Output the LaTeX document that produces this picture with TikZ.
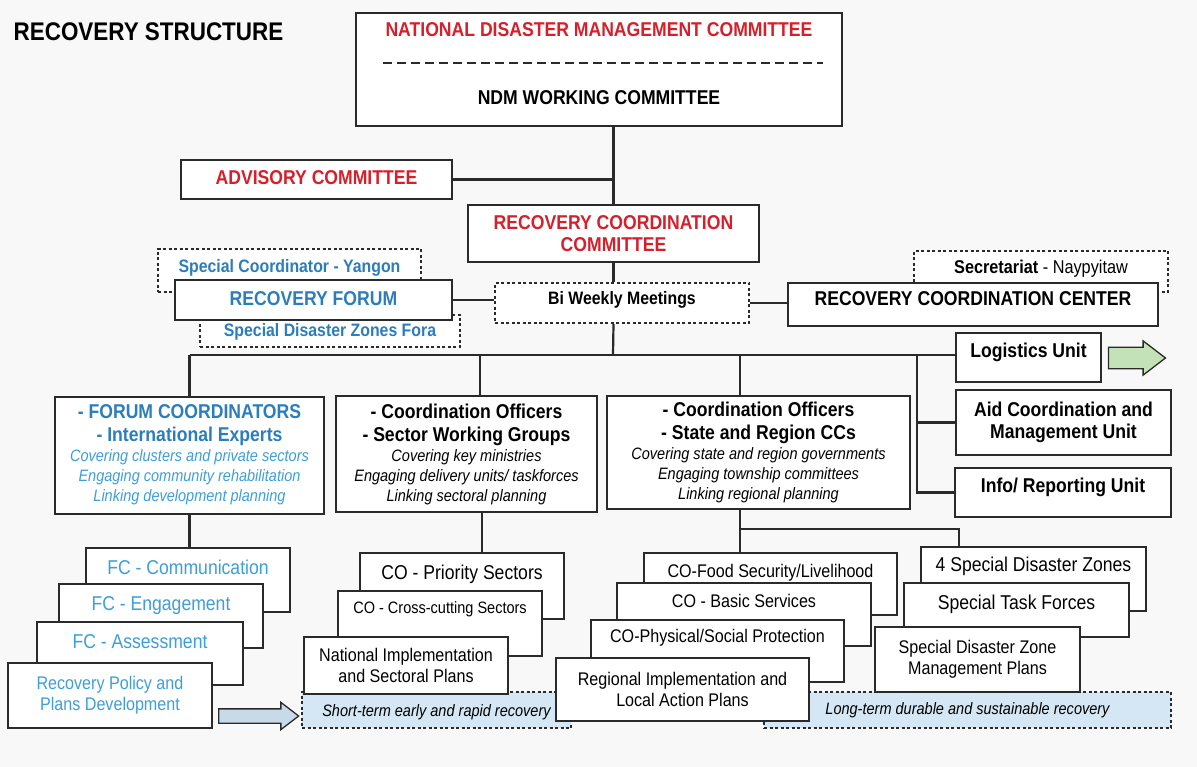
\documentclass[tikz,border=0pt]{standalone}
\usepackage{fontspec}
\setmainfont{Liberation Sans}[FakeStretch=0.88]
\usetikzlibrary{shapes.arrows}
\definecolor{BoxLine}{HTML}{2A2A2A}
\definecolor{TitleRed}{HTML}{D51F2A}
\definecolor{ForumBlue}{HTML}{2C7DBC}
\definecolor{ForumLight}{HTML}{3E9ED8}
\definecolor{RecoveryFill}{HTML}{D5E6F4}
\definecolor{ArrowGreen}{HTML}{C4E2B8}
\definecolor{ArrowBlue}{HTML}{C8DAEA}
\definecolor{PageGray}{HTML}{F8F8F8}
\newcommand{\boxlead}[1]{{\fontsize{20}{23}\selectfont\upshape\bfseries #1}}

\tikzset{
  box/.style={draw=BoxLine, fill=white, line width=2pt, inner sep=0pt, align=center},
  dashbox/.style={box, dash pattern=on 3pt off 2.5pt},
  link/.style={draw=BoxLine, line width=2.2pt},
  big/.style={font=\fontsize{20}{22}\selectfont\bfseries},
  mid/.style={font=\fontsize{18}{21}\selectfont\bfseries},
  card/.style={font=\fontsize{20}{22}\selectfont},
  smallcard/.style={font=\fontsize{18.3}{21}\selectfont},
  note/.style={font=\fontsize{16.5}{23}\selectfont\itshape},
  blockarrow/.style={single arrow, draw=BoxLine, line width=1.3pt, inner xsep=0pt, single arrow tip angle=75, single arrow head extend=6.5pt}
}

\begin{document}
\begin{tikzpicture}[x=1pt, y=-1pt]
  \fill[PageGray] (0,0) rectangle (1197,767);
  \useasboundingbox (0,0) rectangle (1197,767);

  \node[font=\fontsize{25.5}{28}\selectfont\bfseries] (title) at (148.5,32) {RECOVERY STRUCTURE};

  \node[box, big, minimum width=486pt, text height=92pt, text depth=21pt] (ndmc) at (599,69.5)
    {\textcolor{TitleRed}{NATIONAL DISASTER MANAGEMENT COMMITTEE}\\[46pt] NDM WORKING COMMITTEE};
  \draw[BoxLine, line width=1.6pt, dash pattern=on 9pt off 5pt] (383,63) -- (823,63);

  \node[box, big, text=TitleRed, minimum width=271pt, text height=25pt, text depth=14pt] (advisory) at (316.5,179.5) {ADVISORY COMMITTEE};
  \node[box, big, text=TitleRed, minimum width=291pt, minimum height=57pt] (rcc) at (613.5,233.5) {RECOVERY COORDINATION\\COMMITTEE};

  \node[dashbox, mid, text=ForumBlue, minimum width=263pt, text height=23.5pt, text depth=19.5pt] (yangon) at (289.5,270.5) {Special Coordinator - Yangon};
  \node[dashbox, mid, text=ForumBlue, minimum width=260pt, text height=21.5pt, text depth=10.5pt] (fora) at (330,331) {Special Disaster Zones Fora};
  \node[box, big, text=ForumBlue, minimum width=277pt, text height=26pt, text depth=14pt] (forum) at (313.5,300) {RECOVERY FORUM};
  \node[dashbox, mid, minimum width=254pt, text height=21.5pt, text depth=18.5pt] (biweekly) at (622,303) {Bi Weekly Meetings};

  \node[dashbox, font=\fontsize{18.5}{21}\selectfont, minimum width=254pt, text height=22.5pt, text depth=18.5pt] (secretariat) at (1041,271.5) {\textbf{Secretariat} - Naypyitaw};
  \node[box, big, minimum width=370pt, text height=23pt, text depth=20pt] (rccenter) at (973,304.5) {RECOVERY COORDINATION CENTER};
  \node[box, big, minimum width=145pt, text height=24pt, text depth=25pt] (logistics) at (1028.5,357.5) {Logistics Unit};
  \node[blockarrow, fill=ArrowGreen, minimum height=57pt, inner ysep=10pt] (logarrow) at (1130,358) {};
  \node[box, big, minimum width=215pt, minimum height=65pt] (aid) at (1063.5,422.5) {Aid Coordination and\\Management Unit};
  \node[box, big, minimum width=216pt, text height=24pt, text depth=25pt] (info) at (1063,492.5) {Info/ Reporting Unit};

  \node[box, note, text=ForumLight, minimum width=269pt, minimum height=117pt] (forumco) at (189.5,455)
    {\textcolor{ForumBlue}{\boxlead{- FORUM COORDINATORS}}\\
     \textcolor{ForumBlue}{\boxlead{- International Experts}}\\[-3pt]
     Covering clusters and private sectors\\[-3pt]
     Engaging community rehabilitation\\[-3pt]
     Linking development planning};
  \node[box, note, minimum width=261pt, minimum height=116pt] (sector) at (466.5,454)
    {\boxlead{- Coordination Officers}\\
     \boxlead{- Sector Working Groups}\\[-3pt]
     Covering key ministries\\[-3pt]
     Engaging delivery units/ taskforces\\[-3pt]
     Linking sectoral planning};
  \node[box, note, minimum width=303pt, minimum height=113pt] (state) at (758.5,452.5)
    {\boxlead{- Coordination Officers}\\
     \boxlead{- State and Region CCs}\\[-3pt]
     Covering state and region governments\\[-3pt]
     Engaging township committees\\[-3pt]
     Linking regional planning};

  \node[dashbox, fill=RecoveryFill, note, minimum width=269pt, text height=24pt, text depth=12pt] (shortterm) at (436.5,710) {Short-term early and rapid recovery};
  \node[dashbox, fill=RecoveryFill, note, minimum width=407pt, text height=22pt, text depth=14pt] (longterm) at (967.5,710) {Long-term durable and sustainable recovery};

  \node[box, card, text=ForumLight, minimum width=204pt, text height=26pt, text depth=38pt] (fccomm) at (188,580) {FC - Communication};
  \node[box, card, text=ForumLight, minimum width=204pt, text height=26pt, text depth=38pt] (fceng) at (161,616) {FC - Engagement};
  \node[box, card, text=ForumLight, minimum width=206pt, text height=26pt, text depth=37pt] (fcassess) at (140,653.5) {FC - Assessment};
  \node[box, smallcard, text=ForumLight, minimum width=204pt, minimum height=65pt] (policy) at (110,695.5) {Recovery Policy and\\Plans Development};
  \node[blockarrow, fill=ArrowBlue, minimum height=80pt, inner ysep=6.5pt] (planarrow) at (254,716) {};

  \node[box, card, minimum width=204pt, text height=26pt, text depth=40pt] (copriority) at (462,586) {CO - Priority Sectors};
  \node[box, font=\fontsize{16.5}{19}\selectfont, minimum width=204pt, text height=22pt, text depth=43pt] (cocross) at (440,623.5) {CO - Cross-cutting Sectors};
  \node[box, smallcard, minimum width=204pt, minimum height=57pt] (national) at (406,665.5) {National Implementation\\and Sectoral Plans};

  \node[box, smallcard, minimum width=253pt, text height=24.5pt, text depth=37.5pt] (cofood) at (770.5,584) {CO-Food Security/Livelihood};
  \node[box, smallcard, minimum width=254pt, text height=24.5pt, text depth=38.5pt] (cobasic) at (744,614.5) {CO - Basic Services};
  \node[box, smallcard, minimum width=253pt, text height=22.5pt, text depth=39.5pt] (cophys) at (717.5,651) {CO-Physical/Social Protection};
  \node[box, smallcard, minimum width=253pt, minimum height=63pt] (regional) at (682.5,689.5) {Regional Implementation and\\Local Action Plans};

  \node[box, card, minimum width=225pt, text height=24pt, text depth=40pt] (sdz) at (1033.5,579) {4 Special Disaster Zones};
  \node[box, card, minimum width=225pt, text height=26pt, text depth=28pt] (taskforce) at (1016.5,610) {Special Task Forces};
  \node[box, smallcard, minimum width=205pt, minimum height=65pt] (sdzplans) at (977.5,659.5) {Special Disaster Zone\\Management Plans};

  \coordinate (bus) at (613,355);
  \coordinate (branch) at ([xshift=-38pt]logistics.west |- bus);
  \coordinate (stsplit) at ([xshift=-18.5pt, yshift=-19pt]state.south);

  \draw[link] (ndmc.south -| rcc.north) -- (rcc.north);
  \draw[link] (advisory.east) -- (advisory.east -| rcc.north);
  \draw[link] (rcc.south) -- (rcc.south |- biweekly.north);
  \draw[link] (forum.east) -- (forum.east -| biweekly.west);
  \draw[link] (biweekly.east) -- (biweekly.east -| rccenter.west);
  \draw[link] (rcc.south |- biweekly.south) -- (bus);
  \draw[link] (forumco.north |- bus) -- (bus -| logistics.west);
  \draw[link] (forumco.north |- bus) -- (forumco.north);
  \draw[link] ([xshift=13.5pt]sector.north |- bus) -- ([xshift=13.5pt]sector.north);
  \draw[link] ([xshift=-18.5pt]state.north |- bus) -- ([xshift=-18.5pt]state.north);
  \draw[link] (branch) |- (aid.west);
  \draw[link] (branch) |- (info.west);
  \draw[link] (forumco.south) -- (forumco.south |- fccomm.north);
  \draw[link] ([xshift=15.5pt]sector.south) -- ([xshift=15.5pt]sector.south |- copriority.north);
  \draw[link] ([xshift=-18.5pt]state.south) -- ([xshift=-18.5pt]state.south |- cofood.north);
  \draw[link] (stsplit) -| ([xshift=-74.5pt]sdz.north);
\end{tikzpicture}
\end{document}
